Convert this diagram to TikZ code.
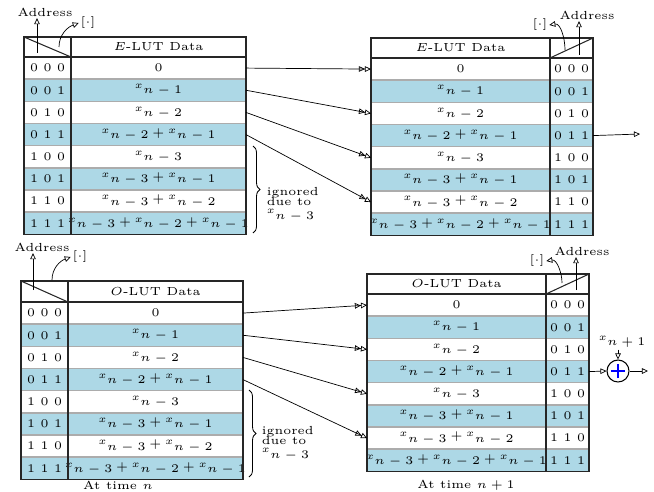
\documentclass[tikz,border=0pt]{standalone}
\usepackage{graphicx}
\usetikzlibrary{arrows.meta,decorations.pathreplacing}
\definecolor{lutblue}{HTML}{ADD8E6}
\newcommand\xv[1]{\raisebox{1.3pt}{\scalebox{0.85}{$x$}}\kern0.3pt\raisebox{-0.9pt}{$#1$}}
\def\rowlist{0/{0 0 0}/{$0$}/white, 1/{0 0 1}/{\xv{n-1}}/lutblue, 2/{0 1 0}/{\xv{n-2}}/white, 3/{0 1 1}/{\xv{n-2}${}+{}$\xv{n-1}}/lutblue, 4/{1 0 0}/{\xv{n-3}}/white, 5/{1 0 1}/{\xv{n-3}${}+{}$\xv{n-1}}/lutblue, 6/{1 1 0}/{\xv{n-3}${}+{}$\xv{n-2}}/white, 7/{1 1 1}/{\xv{n-3}${}+{}$\xv{n-2}${}+{}$\xv{n-1}}/lutblue}
\tikzset{
  lutrow/.style={draw=gray!65, line width=0.6pt, minimum width=94.9pt, minimum height=9.48pt, inner sep=0pt, outer sep=0pt},
  lutframe/.style={draw=black!85, line width=0.45pt},
  txt/.style={inner sep=0.6pt},
  dbl/.style={-{Triangle[open,length=2.6pt,width=2.4pt]Triangle[open,length=2.6pt,width=2.4pt]}, line width=0.3pt},
  sgl/.style={-{Triangle[open,length=2.6pt,width=2.4pt]}, line width=0.3pt},
  bracestyle/.style={decorate, decoration={brace, amplitude=3pt}, line width=0.35pt},
}
\newcommand\drawlut[5]{%
  \foreach \i/\ad/\dt/\fl in \rowlist {
    \node[lutrow, fill=\fl] (#1\i) at ({#2+111},{#3+11.08+22.17*\i}) {};
    \node[txt] at ({#4},{#3+11.08+22.17*\i}) {\ad};
    \node[txt] at ({#5},{#3+11.08+22.17*\i}) {\dt};
  }%
}
\begin{document}
\begin{tikzpicture}[x=0.4275pt,y=-0.4275pt,every node/.style={font=\tiny}]
\useasboundingbox (0,0) rectangle (654,491);

% ---------- Table A (top-left, E-LUT, time n)
\drawlut{A}{24}{57}{47.5}{158.5}
\draw[lutframe] (24,37) rectangle (246,234.4);
\draw[lutframe] (24,57) -- (246,57);
\draw[lutframe] (71,37) -- (71,234.4);
\draw[lutframe] (24,37) -- (71,57);
\node[txt] (hA) at (158.5,47) {$E$-LUT Data};
\node[txt] (adA) at (45,12) {Address};
\coordinate (adA0) at (37,53);
\draw[sgl] (adA0) -- (adA0 |- adA.south);
\node[txt] (brA) at (88,23) {$[\cdot]$};
\coordinate (brA0) at (59,47);
\draw[sgl] (brA0) to[out=90,in=200] (brA.west);

% ---------- Table B (top-right, E-LUT, time n+1)
\drawlut{B}{371}{58}{571.5}{460.5}
\draw[lutframe] (371,38) rectangle (593,235.4);
\draw[lutframe] (371,58) -- (593,58);
\draw[lutframe] (550,38) -- (550,235.4);
\draw[lutframe] (550,58) -- (593,38);
\node[txt] (hB) at (460.5,48) {$E$-LUT Data};
\node[txt] (adB) at (587,15) {Address};
\coordinate (adB0) at (579,55);
\draw[sgl] (adB0) -- (adB0 |- adB.south);
\node[txt] (brB) at (540,25) {$[\cdot]$};
\coordinate (brB0) at (565,50);
\draw[sgl] (brB0) to[out=90,in=10] (brB.east);

% ---------- Table C (bottom-left, O-LUT, time n)
\drawlut{C}{21}{302}{44.5}{155.5}
\draw[lutframe] (21,281) rectangle (243,479.4);
\draw[lutframe] (21,302) -- (243,302);
\draw[lutframe] (68,281) -- (68,479.4);
\draw[lutframe] (21,281) -- (68,302);
\node[txt] (hC) at (155.5,291.5) {$O$-LUT Data};
\node[txt] (adC) at (42,247) {Address};
\coordinate (adC0) at (33,290);
\draw[sgl] (adC0) -- (adC0 |- adC.south);
\node[txt] (brC) at (80,257) {$[\cdot]$};
\coordinate (brC0) at (52,280);
\draw[sgl] (brC0) to[out=90,in=200] (brC.west);

% ---------- Table D (bottom-right, O-LUT, time n+1)
\drawlut{D}{367}{294}{567.5}{456.5}
\draw[lutframe] (367,274) rectangle (589,471.4);
\draw[lutframe] (367,294) -- (589,294);
\draw[lutframe] (546,274) -- (546,471.4);
\draw[lutframe] (546,294) -- (589,274);
\node[txt] (hD) at (456.5,284) {$O$-LUT Data};
\node[txt] (adD) at (582,251) {Address};
\coordinate (adD0) at (576,290);
\draw[sgl] (adD0) -- (adD0 |- adD.south);
\node[txt] (brD) at (537,261) {$[\cdot]$};
\coordinate (brD0) at (562,283);
\draw[sgl] (brD0) to[out=90,in=10] (brD.east);

% ---------- braces
\draw[bracestyle] (253,146) -- (253,233);
\node[txt, anchor=west, align=left] (igA) at (265,204) {ignored\\[-1.4pt]due to\\[-1.2pt]\xv{n-3}};
\draw[bracestyle] (249,390) -- (249,477);
\node[txt, anchor=west, align=left] (igC) at (260,443) {ignored\\[-1.4pt]due to\\[-1.2pt]\xv{n-3}};

% ---------- connectors top
\draw[dbl] (A0.east) -- (B0.west);
\draw[dbl] (A1.east) -- (B2.west);
\draw[dbl] (A2.east) -- (B4.west);
\draw[dbl] (A3.east) -- (B6.west);
\coordinate (outB) at (640,134);
\draw[sgl] (B3.east) -- (outB);

% ---------- connectors bottom
\draw[dbl] (C0.east) -- (D0.west);
\draw[dbl] (C1.east) -- (D2.west);
\draw[dbl] (C2.east) -- (D4.west);
\draw[dbl] (C3.east) -- (D6.west);

% ---------- adder
\node[circle, draw, line width=0.45pt, minimum size=9.4pt, inner sep=0pt] (add) at (618,371) {};
\draw[blue, line width=1pt] ([xshift=-3pt]add.center) -- ([xshift=3pt]add.center)
  ([yshift=-3pt]add.center) -- ([yshift=3pt]add.center);
\draw[sgl] (D3.east) -- (add.west);
\coordinate (outD) at (648,371);
\draw[sgl] (add.east) -- (outD);
\node[txt] (xin) at (622,342) {\xv{n+1}};
\draw[sgl] (xin.south -| add.north) -- (add.north);

% ---------- time labels
\node[txt] (tn) at (118,485.5) {At time $n$};
\node[txt] (tn1) at (466,485.5) {At time $n+1$};
\end{tikzpicture}
\end{document}
